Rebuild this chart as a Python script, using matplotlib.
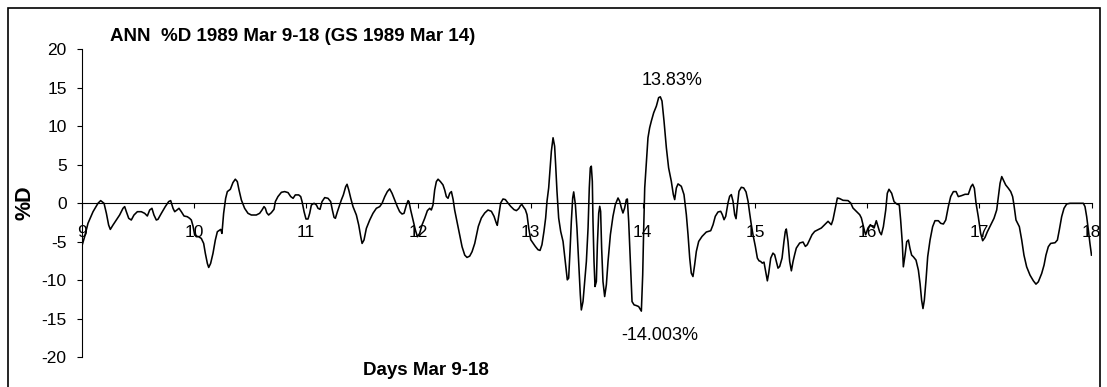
import matplotlib
matplotlib.use("Agg")
import matplotlib.pyplot as plt
from matplotlib.patches import Rectangle

plt.rcParams["font.family"] = ["Liberation Sans", "DejaVu Sans"]
plt.rcParams["axes.unicode_minus"] = False

# Time in days (March 1989) and the %D series
days = [
    9.000, 9.026, 9.056, 9.101, 9.145, 9.169, 9.199, 9.220, 9.240, 9.255,
    9.279, 9.309, 9.338, 9.368, 9.383, 9.398, 9.419, 9.442, 9.466, 9.496,
    9.531, 9.561, 9.585, 9.606, 9.626, 9.644, 9.665, 9.680, 9.710, 9.745,
    9.775, 9.793, 9.814, 9.829, 9.849, 9.867, 9.888, 9.912, 9.941, 9.962,
    9.977, 9.992, 10.007, 10.022, 10.042, 10.066, 10.087, 10.102, 10.120, 10.132,
    10.149, 10.170, 10.191, 10.209, 10.230, 10.239, 10.250, 10.265, 10.283, 10.298,
    10.325, 10.348, 10.369, 10.387, 10.402, 10.423, 10.452, 10.482, 10.512, 10.556,
    10.586, 10.607, 10.625, 10.637, 10.649, 10.666, 10.690, 10.714, 10.726, 10.749,
    10.780, 10.809, 10.839, 10.863, 10.884, 10.904, 10.934, 10.952, 10.964, 10.982,
    10.999, 11.017, 11.032, 11.047, 11.071, 11.092, 11.106, 11.124, 11.142, 11.166,
    11.195, 11.219, 11.234, 11.249, 11.261, 11.279, 11.299, 11.314, 11.332, 11.353,
    11.365, 11.380, 11.398, 11.418, 11.448, 11.469, 11.487, 11.499, 11.516, 11.537,
    11.567, 11.596, 11.626, 11.656, 11.677, 11.701, 11.724, 11.745, 11.766, 11.790,
    11.813, 11.834, 11.855, 11.873, 11.894, 11.909, 11.917, 11.932, 11.953, 11.974,
    11.992, 12.012, 12.033, 12.057, 12.081, 12.102, 12.116, 12.131, 12.146, 12.161,
    12.176, 12.197, 12.220, 12.235, 12.250, 12.265, 12.280, 12.295, 12.310, 12.324,
    12.345, 12.369, 12.390, 12.414, 12.434, 12.458, 12.479, 12.503, 12.535, 12.562,
    12.592, 12.621, 12.651, 12.675, 12.695, 12.704, 12.716, 12.734, 12.755, 12.776,
    12.799, 12.823, 12.853, 12.874, 12.895, 12.912, 12.924, 12.939, 12.954, 12.969,
    12.984, 13.002, 13.022, 13.043, 13.067, 13.085, 13.102, 13.120, 13.135, 13.147,
    13.162, 13.177, 13.186, 13.201, 13.215, 13.224, 13.236, 13.251, 13.269, 13.290,
    13.310, 13.328, 13.340, 13.352, 13.364, 13.376, 13.385, 13.400, 13.414, 13.429,
    13.444, 13.453, 13.468, 13.483, 13.498, 13.513, 13.524, 13.533, 13.542, 13.551,
    13.557, 13.566, 13.575, 13.587, 13.596, 13.608, 13.617, 13.625, 13.634, 13.646,
    13.661, 13.676, 13.691, 13.712, 13.735, 13.756, 13.780, 13.795, 13.810, 13.824,
    13.839, 13.854, 13.863, 13.875, 13.890, 13.905, 13.923, 13.943, 13.964, 13.988,
    14.000, 14.009, 14.018, 14.033, 14.047, 14.062, 14.077, 14.098, 14.122, 14.142,
    14.157, 14.172, 14.190, 14.211, 14.231, 14.255, 14.273, 14.285, 14.300, 14.315,
    14.344, 14.368, 14.389, 14.404, 14.419, 14.433, 14.448, 14.463, 14.478, 14.499,
    14.529, 14.567, 14.606, 14.627, 14.647, 14.671, 14.695, 14.710, 14.725, 14.740,
    14.760, 14.775, 14.790, 14.805, 14.820, 14.832, 14.843, 14.858, 14.879, 14.900,
    14.921, 14.939, 14.953, 14.968, 14.983, 15.004, 15.022, 15.037, 15.051, 15.066,
    15.081, 15.093, 15.111, 15.123, 15.141, 15.161, 15.176, 15.191, 15.206, 15.221,
    15.242, 15.259, 15.271, 15.280, 15.295, 15.310, 15.325, 15.340, 15.354, 15.369,
    15.399, 15.429, 15.450, 15.467, 15.488, 15.509, 15.533, 15.562, 15.592, 15.622,
    15.652, 15.666, 15.681, 15.696, 15.717, 15.735, 15.756, 15.785, 15.830, 15.854,
    15.874, 15.904, 15.934, 15.949, 15.963, 15.978, 15.987, 16.008, 16.029, 16.044,
    16.062, 16.082, 16.097, 16.112, 16.127, 16.145, 16.166, 16.180, 16.195, 16.219,
    16.240, 16.264, 16.287, 16.299, 16.314, 16.323, 16.338, 16.353, 16.368, 16.382,
    16.397, 16.412, 16.436, 16.457, 16.472, 16.486, 16.498, 16.510, 16.525, 16.540,
    16.561, 16.584, 16.605, 16.635, 16.656, 16.680, 16.701, 16.724, 16.745, 16.769,
    16.793, 16.813, 16.843, 16.873, 16.902, 16.926, 16.941, 16.956, 16.971, 16.991,
    17.012, 17.030, 17.051, 17.072, 17.101, 17.131, 17.155, 17.170, 17.185, 17.200,
    17.214, 17.235, 17.259, 17.280, 17.297, 17.309, 17.327, 17.357, 17.378, 17.398,
    17.422, 17.452, 17.482, 17.505, 17.526, 17.556, 17.577, 17.594, 17.615, 17.636,
    17.675, 17.696, 17.713, 17.734, 17.755, 17.779, 17.808, 17.838, 17.897, 17.927,
    17.942, 17.957, 17.972, 17.986, 18.000,
]

pct_d = [
    -5.64, -4.34, -2.60, -1.09, 0.00, 0.35, 0.00, -1.30, -2.82, -3.39,
    -2.82, -2.17, -1.52, -0.65, -0.43, -1.09, -1.95, -2.17, -1.52, -1.09,
    -1.09, -1.30, -1.65, -0.87, -0.65, -1.52, -2.17, -2.08, -1.30, -0.43,
    0.22, 0.35, -0.65, -1.09, -0.87, -0.65, -1.09, -1.65, -1.74, -1.95,
    -2.17, -2.95, -4.12, -4.34, -4.34, -4.56, -5.21, -6.51, -7.81, -8.33,
    -7.81, -6.51, -4.77, -3.69, -3.47, -3.39, -3.91, -1.30, 0.65, 1.52,
    1.82, 2.69, 3.13, 2.82, 1.74, 0.43, -0.65, -1.30, -1.52, -1.52,
    -1.30, -0.87, -0.43, -0.65, -1.22, -1.52, -1.22, -0.78, 0.22, 0.87,
    1.43, 1.52, 1.39, 0.87, 0.65, 1.09, 1.09, 0.87, 0.22, -1.09,
    -2.04, -2.04, -1.30, -0.22, 0.00, -0.22, -0.65, -0.78, 0.22, 0.74,
    0.65, 0.22, -0.87, -1.82, -1.95, -1.09, -0.22, 0.43, 1.09, 2.17,
    2.47, 1.74, 0.65, -0.43, -1.52, -2.82, -4.34, -5.21, -4.77, -3.26,
    -2.17, -1.30, -0.65, -0.43, 0.00, 0.87, 1.52, 1.87, 1.30, 0.43,
    -0.43, -1.09, -1.39, -1.30, -0.22, 0.35, 0.22, -0.87, -2.17, -3.47,
    -4.34, -3.91, -2.82, -1.95, -0.95, -0.65, -0.87, -0.22, 1.74, 2.82,
    3.13, 2.82, 2.39, 1.74, 0.87, 0.65, 1.30, 1.52, 0.52, -0.87,
    -2.39, -4.12, -5.64, -6.73, -7.03, -6.86, -6.29, -5.21, -3.00, -1.91,
    -1.26, -0.87, -1.04, -1.69, -2.56, -2.86, -1.69, 0.04, 0.56, 0.48,
    0.04, -0.39, -0.82, -0.95, -0.69, -0.26, -0.17, -0.52, -0.82, -1.48,
    -3.21, -4.73, -5.16, -5.60, -6.03, -6.12, -5.38, -3.65, -1.91, 0.26,
    2.00, 5.03, 6.77, 8.51, 7.42, 5.03, 1.56, -1.91, -3.65, -4.95,
    -7.55, -9.94, -9.72, -6.25, -2.34, 0.69, 1.48, -0.17, -3.21, -7.55,
    -11.89, -13.85, -12.76, -10.16, -7.55, -3.21, 2.00, 4.60, 4.82, 2.86,
    -2.34, -7.55, -10.81, -10.16, -5.38, -1.26, -0.39, -1.04, -5.82, -10.16,
    -12.11, -10.59, -7.55, -4.08, -1.69, -0.17, 0.69, 0.26, -0.61, -1.26,
    -0.61, 0.48, 0.56, -2.34, -7.55, -12.76, -13.19, -13.28, -13.41, -14.003,
    -9.29, -3.21, 2.00, 5.47, 8.51, 9.81, 10.68, 11.76, 12.63, 13.72,
    13.83, 13.28, 10.68, 7.20, 4.60, 2.86, 1.13, 0.48, 2.00, 2.52,
    2.21, 1.13, -1.48, -4.08, -7.12, -9.07, -9.51, -7.99, -6.25, -4.95,
    -4.30, -3.73, -3.56, -2.78, -1.69, -1.13, -1.04, -1.48, -2.13, -1.69,
    0.04, 0.91, 1.13, 0.26, -1.48, -2.00, -0.39, 1.56, 2.08, 2.00,
    1.48, 0.26, -1.26, -2.78, -4.08, -5.60, -7.12, -7.47, -7.55, -7.77,
    -7.64, -8.64, -10.07, -9.07, -7.12, -6.47, -6.68, -7.55, -8.42, -8.20,
    -7.12, -4.95, -3.65, -3.34, -4.95, -7.55, -8.77, -7.55, -6.68, -5.82,
    -5.16, -5.03, -5.60, -5.38, -4.73, -4.08, -3.65, -3.43, -3.21, -2.78,
    -2.34, -2.56, -2.78, -2.13, -0.61, 0.69, 0.61, 0.39, 0.35, 0.04,
    -0.61, -1.04, -1.48, -1.91, -2.78, -3.65, -4.08, -3.21, -2.78, -2.99,
    -3.21, -2.26, -2.99, -3.73, -4.08, -3.04, -0.87, 1.30, 1.82, 1.30,
    0.22, -0.09, -0.22, -2.17, -5.21, -8.25, -6.73, -4.99, -4.77, -5.86,
    -6.73, -6.94, -7.38, -8.68, -10.42, -12.59, -13.67, -12.59, -9.98, -6.94,
    -4.77, -3.04, -2.26, -2.26, -2.60, -2.69, -2.17, -0.43, 0.87, 1.52,
    1.52, 0.87, 1.00, 1.17, 1.17, 2.17, 2.47, 1.95, 0.00, -1.74,
    -3.91, -4.86, -4.43, -3.69, -2.82, -1.95, -0.87, 0.87, 2.60, 3.47,
    3.04, 2.39, 1.95, 1.52, 0.87, -0.22, -2.17, -3.04, -4.77, -6.73,
    -8.25, -9.33, -10.07, -10.50, -10.20, -9.11, -8.03, -6.73, -5.64, -5.21,
    -5.12, -4.77, -3.47, -1.74, -0.65, -0.09, 0.00, 0.00, 0.00, 0.00,
    -0.43, -1.74, -3.47, -5.21, -6.73,
]

day_ticks = [9, 10, 11, 12, 13, 14, 15, 16, 17, 18]
day_labels = [str(d) for d in day_ticks]
pct_ticks = [-20, -15, -10, -5, 0, 5, 10, 15, 20]

title_text = "ANN  %D 1989 Mar 9-18 (GS 1989 Mar 14)"
xlabel_text = "Days Mar 9-18"
ylabel_text = "%D"

W, H = 1107, 387
fig = plt.figure(figsize=(W / 100, H / 100), dpi=100)
fig.patch.set_facecolor("white")

ax = fig.add_axes([81.7 / W, (H - 357.3) / H, (1091.5 - 81.7) / W, 308.0 / H])
ax.patch.set_visible(False)

ax.plot(days, pct_d, color="black", lw=1.15, solid_joinstyle="round", zorder=3)

ax.set_xlim(9, 18)
ax.set_ylim(-20, 20)

for side in ("top", "right"):
    ax.spines[side].set_visible(False)
ax.spines["bottom"].set_position(("data", 0))
ax.spines["bottom"].set_linewidth(0.8)
ax.spines["left"].set_linewidth(0.8)

ax.set_xticks(day_ticks)
ax.set_xticklabels(day_labels)
ax.set_yticks(pct_ticks)
ax.tick_params(axis="x", direction="out", length=3.6, width=0.8, pad=12,
               labelsize=12.5, colors="black")
ax.tick_params(axis="y", direction="out", length=3.6, width=0.8, pad=7.2,
               labelsize=12.5, colors="black")

# Extreme values labelled beside the curve
peak_i = max(range(len(pct_d)), key=lambda i: pct_d[i])
trough_i = min(range(len(pct_d)), key=lambda i: pct_d[i])
ax.annotate(f"{pct_d[peak_i]:.2f}%", xy=(days[peak_i], pct_d[peak_i]),
            xytext=(8.8, 12), textcoords="offset points",
            ha="center", va="center", fontsize=13)
ax.annotate(f"{pct_d[trough_i]:.3f}%", xy=(days[trough_i], pct_d[trough_i]),
            xytext=(13.4, -17.2), textcoords="offset points",
            ha="center", va="center", fontsize=13)

fig.text(110 / W, (H - 41) / H, title_text, fontsize=13.5, fontweight="bold",
         ha="left", va="baseline")
fig.text(363 / W, (H - 375) / H, xlabel_text, fontsize=13.5, fontweight="bold",
         ha="left", va="baseline")
fig.text(25 / W, (H - 202.3) / H, ylabel_text, fontsize=15.5, fontweight="bold",
         rotation=90, ha="center", va="center")

# Chart frame
fig.add_artist(Rectangle((7.5 / W, -0.05), (1100 - 7.5) / W, (H - 7.5) / H + 0.05,
                         transform=fig.transFigure, fill=False, lw=1.2,
                         edgecolor="black"))

fig.savefig("out.png", dpi=100)
